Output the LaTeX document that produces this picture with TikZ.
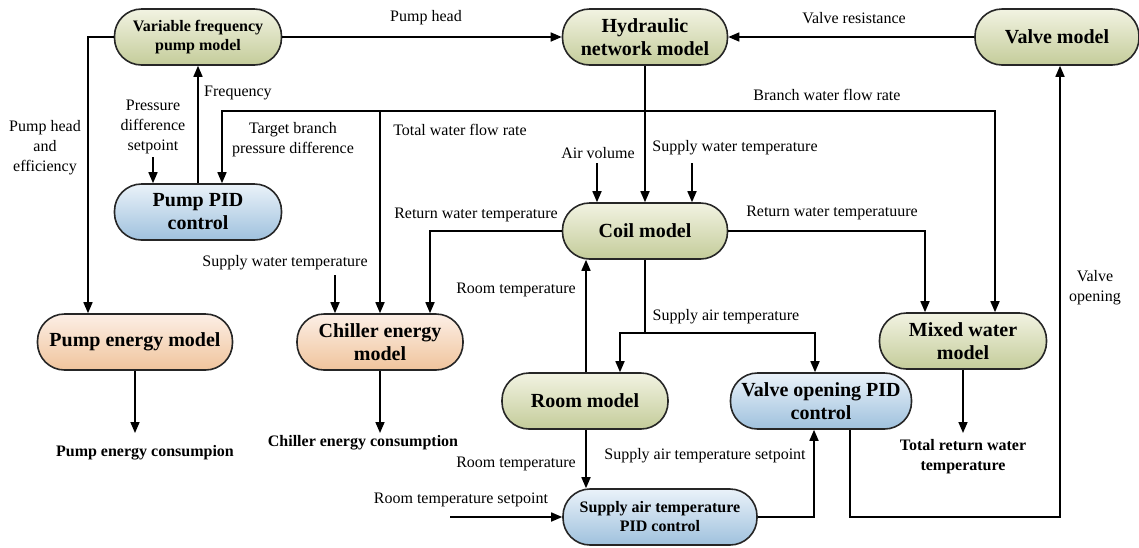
\documentclass[tikz,border=0pt]{standalone}
\usepackage{fontspec}
\setmainfont{Liberation Serif}
\usetikzlibrary{arrows.meta}
\definecolor{gtop}{HTML}{F2F3E2}
\definecolor{gbot}{HTML}{C4CC9A}
\definecolor{btop}{HTML}{EAF2F9}
\definecolor{bbot}{HTML}{9FC1DD}
\definecolor{otop}{HTML}{FCEFE6}
\definecolor{obot}{HTML}{F0C49C}
\begin{document}
\begin{tikzpicture}[x=1pt,y=-1pt,
  blk/.style={draw=black!85, line width=1.6pt, rounded corners=27pt, minimum height=56pt, inner sep=0pt, align=center, font=\fontsize{20}{23}\selectfont\bfseries},
  gblk/.style={blk, top color=gtop, bottom color=gbot},
  bblk/.style={blk, top color=btop, bottom color=bbot},
  oblk/.style={blk, top color=otop, bottom color=obot},
  smallbold/.style={font=\fontsize{16}{19}\selectfont\bfseries},
  lbl/.style={font=\fontsize{16}{20}\selectfont, align=center, inner sep=0pt},
  outlbl/.style={font=\fontsize{16}{20}\selectfont\bfseries, align=center, inner sep=0pt},
  conn/.style={line width=1.6pt, draw=black},
  arr/.style={conn, -{Triangle[length=11pt,width=9pt]}},
]
\useasboundingbox (0,0) rectangle (1139,547);

% blocks
\node[gblk, smallbold, minimum width=167pt] (vfp) at (198,37) {Variable frequency\\pump model};
\node[gblk, minimum width=165pt] (hyd) at (645,37) {Hydraulic\\network model};
\node[gblk, minimum width=164pt] (valve) at (1057,37) {Valve model};
\node[bblk, minimum width=167pt] (ppid) at (198,212) {Pump PID\\control};
\node[gblk, minimum width=165pt] (coil) at (645,231) {Coil model};
\node[oblk, minimum width=195pt] (pen) at (135,342) {Pump energy model};
\node[oblk, minimum width=166pt] (chen) at (380,342) {Chiller energy\\model};
\node[gblk, minimum width=166pt] (room) at (585,401) {Room model};
\node[bblk, minimum width=181pt] (vpid) at (821,401) {Valve opening PID\\control};
\node[gblk, minimum width=167pt] (mix) at (963,341) {Mixed water\\model};
\node[bblk, smallbold, minimum width=194pt] (sat) at (660,517) {Supply air temperature\\PID control};

% labels
\node[lbl] (lphe) at (45,148) {Pump head\\and\\efficiency};
\node[lbl] (lph) at (426,18) {Pump head};
\node[lbl] (lvr) at (854,18) {Valve resistance};
\node[lbl, anchor=west] (lfreq) at (204,93) {Frequency};
\node[lbl] (lpds) at (153,127) {Pressure\\difference\\setpoint};
\node[lbl] (ltbp) at (293,140) {Target branch\\pressure difference};
\node[lbl] (ltwf) at (460,130) {Total water flow rate};
\node[lbl] (lbwf) at (827,95) {Branch water flow rate};
\node[lbl] (lav) at (598,153) {Air volume};
\node[lbl] (lswt1) at (735,148) {Supply water temperature};
\node[lbl] (lrwt1) at (476,215) {Return water temperature};
\node[lbl] (lrwt2) at (832,213) {Return water temperatuure};
\node[lbl] (lswt2) at (285,263) {Supply water temperature};
\node[lbl] (lrt1) at (516,290) {Room temperature};
\node[lbl] (lsat) at (726,317) {Supply air temperature};
\node[lbl] (lrt2) at (516,464) {Room temperature};
\node[lbl] (lsats) at (705,456) {Supply air temperature setpoint};
\node[lbl] (lrts) at (461,500) {Room temperature setpoint};
\node[lbl] (lvo) at (1095,288) {Valve\\opening};
\node[outlbl] (opec) at (145,453) {Pump energy consumpion};
\node[outlbl] (ocec) at (363,443) {Chiller energy consumption};
\node[outlbl] (otrw) at (963,457) {Total return water\\temperature};

% free ends / junctions
\coordinate (jflow) at (645,111);
\coordinate (jchil) at (380,111);
\coordinate (sav) at (597,163);
\coordinate (ssw) at (692,163);
\coordinate (spd) at (153,157);
\coordinate (ssw2) at (335,275);
\coordinate (epen) at (135,433);
\coordinate (echen) at (380,433);
\coordinate (emix) at (963,433);
\coordinate (jsa) at (645,333);
\coordinate (srts) at (450,517);

% connectors
\draw[arr] (vfp.west) -| ([xshift=-47pt]pen.north);
\draw[arr] (vfp.east) -- (hyd.west);
\draw[arr] (valve.west) -- (hyd.east);
\draw[arr] (ppid.north) -- (vfp.south);
\draw[arr] (spd) -- ([xshift=-45pt]ppid.north);
\draw[arr] (hyd.south) -- (coil.north);
\draw[arr] (jflow) -| ([xshift=24pt]ppid.north);
\draw[arr] (jflow) -| ([xshift=32pt]mix.north);
\draw[arr] (jchil) -- (chen.north);
\draw[arr] (sav) -- ([xshift=-48pt]coil.north);
\draw[arr] (ssw) -- ([xshift=47pt]coil.north);
\draw[arr] (coil.west) -| ([xshift=50pt]chen.north);
\draw[arr] (coil.east) -| ([xshift=-38pt]mix.north);
\draw[arr] (ssw2) -- ([xshift=-45pt]chen.north);
\draw[arr] (pen.south) -- (epen);
\draw[arr] (chen.south) -- (echen);
\draw[arr] (mix.south) -- (emix);
\draw[arr] ([xshift=1pt]room.north) -- ([xshift=-59pt]coil.south);
\draw[conn] (coil.south) -- (jsa);
\draw[arr] (jsa) -| ([xshift=35pt]room.north);
\draw[arr] (jsa) -| ([xshift=-6pt]vpid.north);
\draw[arr] ([xshift=1pt]room.south) -- ([xshift=-74pt]sat.north);
\draw[arr] (srts) -- (sat.west);
\draw[arr] (sat.east) -| ([xshift=-7pt]vpid.south);
\draw[arr] ([xshift=29pt]vpid.south) |- (1060,517) -- ([xshift=3pt]valve.south);
\end{tikzpicture}
\end{document}
